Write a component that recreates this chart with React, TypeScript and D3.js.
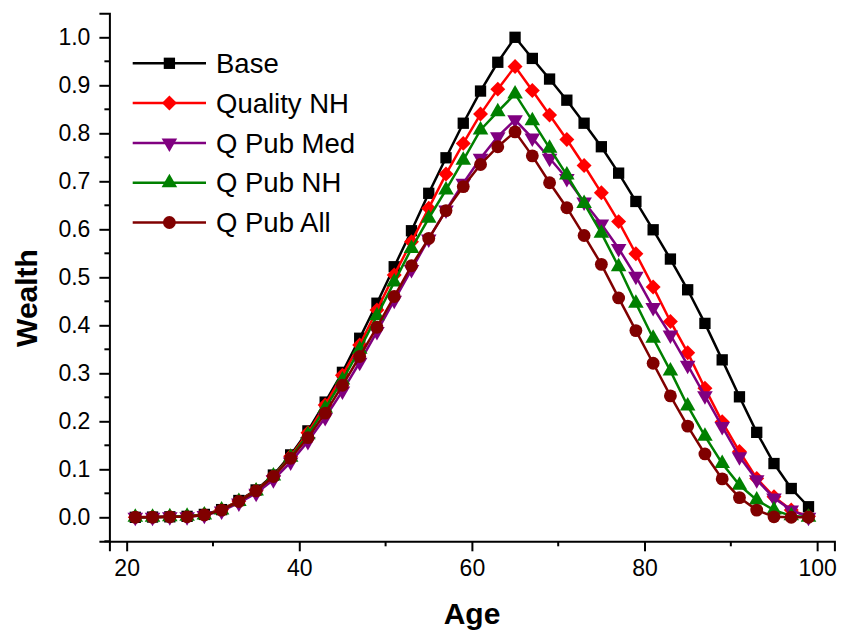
import React, {useEffect, useRef} from "react";
import * as d3 from "d3";

const ages = d3.range(21, 100, 2);

const base = [0, 0.0005, 0.001, 0.002, 0.006, 0.016, 0.035, 0.057, 0.088, 0.13, 0.18, 0.24, 0.302, 0.373, 0.446, 0.522, 0.597, 0.675, 0.749, 0.821, 0.888, 0.948, 1.0, 0.956, 0.913, 0.869, 0.821, 0.772, 0.717, 0.658, 0.599, 0.538, 0.474, 0.404, 0.328, 0.251, 0.177, 0.112, 0.06, 0.022];
const qualityNH = [0, 0.0005, 0.001, 0.002, 0.006, 0.016, 0.034, 0.056, 0.086, 0.127, 0.176, 0.234, 0.296, 0.359, 0.432, 0.505, 0.574, 0.644, 0.715, 0.779, 0.84, 0.892, 0.939, 0.889, 0.838, 0.787, 0.733, 0.676, 0.616, 0.549, 0.48, 0.408, 0.343, 0.269, 0.199, 0.137, 0.081, 0.043, 0.015, 0.002];
const qPubMed = [0, 0, 0.001, 0.001, 0.004, 0.013, 0.03, 0.05, 0.078, 0.115, 0.158, 0.208, 0.263, 0.323, 0.387, 0.452, 0.516, 0.58, 0.64, 0.696, 0.748, 0.793, 0.828, 0.79, 0.748, 0.706, 0.657, 0.611, 0.56, 0.502, 0.437, 0.38, 0.317, 0.253, 0.189, 0.126, 0.078, 0.04, 0.015, 0];
const qPubNH = [0, 0, 0.001, 0.002, 0.005, 0.015, 0.033, 0.055, 0.086, 0.125, 0.172, 0.227, 0.286, 0.35, 0.42, 0.49, 0.56, 0.623, 0.682, 0.744, 0.807, 0.845, 0.882, 0.826, 0.769, 0.713, 0.654, 0.592, 0.522, 0.446, 0.373, 0.305, 0.232, 0.169, 0.112, 0.067, 0.036, 0.015, 0.003, 0];
const qPubAll = [0, 0, 0.001, 0.001, 0.005, 0.015, 0.033, 0.055, 0.085, 0.123, 0.166, 0.217, 0.275, 0.335, 0.396, 0.46, 0.524, 0.581, 0.639, 0.689, 0.735, 0.772, 0.803, 0.753, 0.697, 0.645, 0.587, 0.527, 0.457, 0.389, 0.321, 0.253, 0.19, 0.132, 0.08, 0.041, 0.015, 0.001, 0, 0];

const seriesNames = ["Base", "Quality NH", "Q Pub Med", "Q Pub NH", "Q Pub All"];
const seriesValues = [base, qualityNH, qPubMed, qPubNH, qPubAll];
const colours = ["#000000", "#ff0000", "#800080", "#008000", "#800000"];

const xTicks = [20, 40, 60, 80, 100];
const xMinorTicks = [30, 50, 70, 90];
const yTicks = d3.range(0, 11).map(i => i / 10);
const yMinorTicks = d3.range(0, 11).map(i => i / 10 - 0.05);

const width = 843;
const height = 639;
const font = "'Liberation Sans', Arial, sans-serif";

// marker for each series: square, diamond, down triangle, up triangle, circle
const markerPath = (i: number) => {
    if (i === 0) return d3.symbol(d3.symbolSquare, 128)();
    if (i === 1) return d3.symbol(d3.symbolSquare, 112)();
    if (i === 2 || i === 3) return d3.symbol(d3.symbolTriangle, 105)();
    return d3.symbol(d3.symbolCircle, 130)();
};
const markerRotate = (i: number) => (i === 1 ? 45 : i === 2 ? 180 : 0);

const App = () => {
    const ref = useRef<SVGSVGElement>(null);

    useEffect(() => {
        const svg = d3.select(ref.current);
        svg.selectAll("*").remove();

        const x = d3.scaleLinear().domain([18, 102]).range([109.4, 834.4]);
        const y = d3.scaleLinear().domain([-0.05, 1.05]).range([541.3, 13.3]);

        // axes
        const xAxis = svg.append("g").attr("transform", `translate(0,${y(-0.05)})`)
            .call(d3.axisBottom(x).tickValues(xTicks).tickSize(10).tickPadding(8).tickFormat(d3.format("d")));
        xAxis.selectAll("line").attr("stroke", "#000").attr("stroke-width", 2);
        xAxis.select(".domain").attr("stroke", "#000").attr("stroke-width", 2);
        xAxis.selectAll("text").attr("font-family", font).attr("font-size", 23).attr("fill", "#000");
        xAxis.selectAll(".minor").data(xMinorTicks).enter().append("line")
            .attr("x1", d => x(d)).attr("x2", d => x(d)).attr("y1", 0).attr("y2", 5)
            .attr("stroke", "#000").attr("stroke-width", 2);

        const yAxis = svg.append("g").attr("transform", `translate(${x(18)},0)`)
            .call(d3.axisLeft(y).tickValues(yTicks).tickSize(10).tickPadding(9).tickFormat(d3.format(".1f")));
        yAxis.selectAll("line").attr("stroke", "#000").attr("stroke-width", 2);
        yAxis.select(".domain").attr("stroke", "#000").attr("stroke-width", 2);
        yAxis.selectAll("text").attr("font-family", font).attr("font-size", 23).attr("fill", "#000");
        yAxis.selectAll(".minor").data(yMinorTicks).enter().append("line")
            .attr("x1", -5).attr("x2", 0).attr("y1", d => y(d)).attr("y2", d => y(d))
            .attr("stroke", "#000").attr("stroke-width", 2);

        // axis titles
        svg.append("text").attr("x", 472).attr("y", 624).attr("text-anchor", "middle")
            .attr("font-family", font).attr("font-weight", "bold").attr("font-size", 30).text("Age");
        svg.append("text").attr("transform", "translate(37,298) rotate(-90)").attr("text-anchor", "middle")
            .attr("font-family", font).attr("font-weight", "bold").attr("font-size", 30).text("Wealth");

        // series
        const line = d3.line<number>().x((d, i) => x(ages[i])).y(d => y(d));
        seriesValues.forEach((values, s) => {
            const g = svg.append("g");
            g.append("path").attr("d", line(values)).attr("fill", "none")
                .attr("stroke", colours[s]).attr("stroke-width", 2.5);
            g.selectAll("path.m").data(values).enter().append("path")
                .attr("class", "m")
                .attr("d", markerPath(s))
                .attr("transform", (d, i) => `translate(${x(ages[i])},${y(d)}) rotate(${markerRotate(s)})`)
                .attr("fill", colours[s]);
        });

        // legend
        const legend = svg.append("g");
        seriesNames.forEach((name, s) => {
            const ly = 63.3 + s * 39.8;
            legend.append("line").attr("x1", 132.7).attr("x2", 206).attr("y1", ly).attr("y2", ly)
                .attr("stroke", colours[s]).attr("stroke-width", 2.5);
            legend.append("path").attr("d", markerPath(s))
                .attr("transform", `translate(169.4,${ly}) rotate(${markerRotate(s)})`)
                .attr("fill", colours[s]);
            legend.append("text").attr("x", 216).attr("y", ly).attr("dy", "0.35em")
                .attr("font-family", font).attr("font-size", 27.5).attr("fill", "#000").text(name);
        });
    }, []);

    return (
        <svg
            ref={ref}
            width={width}
            height={height}
            viewBox={`0 0 ${width} ${height}`}
            style={{position: "absolute", left: 0, top: 0, background: "#fff"}}
        />
    );
};

export default App;
